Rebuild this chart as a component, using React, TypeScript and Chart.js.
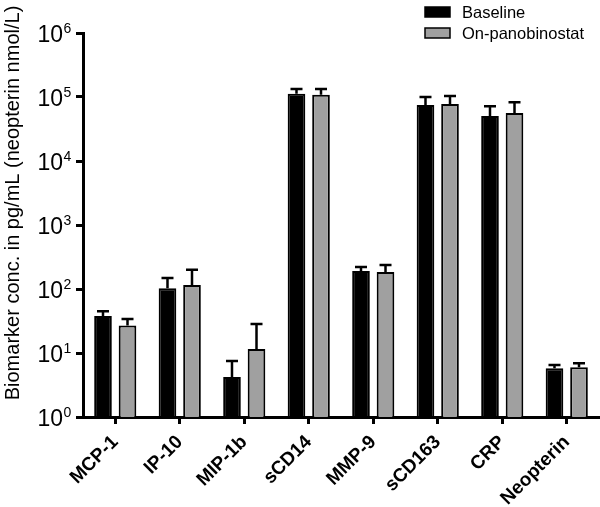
import React, { useEffect, useRef } from 'react';
import { Chart, registerables } from 'chart.js';

Chart.register(...registerables);

const categories = ['MCP-1', 'IP-10', 'MIP-1b', 'sCD14', 'MMP-9', 'sCD163', 'CRP', 'Neopterin'];
const baselineMeans = [38, 103, 4.2, 112000, 191, 75000, 50500, 5.8];
const baselineErrors = [7, 45, 3.3, 21000, 29, 25000, 21500, 0.7];
const onPanoMeans = [27, 115, 11.5, 108000, 185, 78000, 56000, 6.0];
const onPanoErrors = [7, 84, 17, 25000, 52, 26000, 27000, 0.9];
const yTickValues = [1, 10, 100, 1000, 10000, 100000, 1000000];
const yTickExponents = ['0', '1', '2', '3', '4', '5', '6'];
const legendLabels = ['Baseline', 'On-panobinostat'];
const yAxisTitle = 'Biomarker conc. in pg/mL (neopterin nmol/L)';

const FONT = '"Liberation Sans", Arial, Helvetica, sans-serif';
const colors = ['#000000', '#a0a0a0'];
const errorSets = [baselineErrors, onPanoErrors];

const customDraw = {
  id: 'customDraw',
  afterDatasetsDraw(chart: any) {
    const ctx = chart.ctx;
    const y = chart.scales.y;
    ctx.save();
    ctx.strokeStyle = '#000';
    ctx.lineWidth = 2.5;
    ctx.lineCap = 'butt';
    chart.data.datasets.forEach((ds: any, di: number) => {
      const meta = chart.getDatasetMeta(di);
      const errs = errorSets[di];
      meta.data.forEach((bar: any, i: number) => {
        const top = y.getPixelForValue(ds.data[i] + errs[i]);
        const x = bar.x;
        ctx.beginPath();
        ctx.moveTo(x, bar.y);
        ctx.lineTo(x, top);
        ctx.moveTo(x - 6, top);
        ctx.lineTo(x + 6, top);
        ctx.stroke();
      });
    });
    ctx.restore();
  },
  afterDraw(chart: any) {
    const ctx = chart.ctx;
    const y = chart.scales.y;
    ctx.save();
    ctx.fillStyle = '#000';
    yTickValues.forEach((v, i) => {
      const py = y.getPixelForValue(v);
      ctx.font = `23px ${FONT}`;
      ctx.textAlign = 'right';
      ctx.textBaseline = 'alphabetic';
      ctx.fillText('10', 63, py + 9);
      ctx.font = `14px ${FONT}`;
      ctx.textAlign = 'left';
      ctx.fillText(yTickExponents[i], 63.5, py);
    });
    ctx.save();
    ctx.translate(19, 203);
    ctx.rotate(-Math.PI / 2);
    ctx.font = `20px ${FONT}`;
    ctx.textAlign = 'center';
    ctx.textBaseline = 'alphabetic';
    ctx.fillText(yAxisTitle, 0, 0);
    ctx.restore();
    legendLabels.forEach((label, i) => {
      const top = 7 + i * 21;
      ctx.fillStyle = colors[i];
      ctx.fillRect(425, top, 25, 10);
      ctx.strokeStyle = '#000';
      ctx.lineWidth = 1.5;
      ctx.strokeRect(425, top, 25, 10);
      ctx.fillStyle = '#000';
      ctx.font = `16.5px ${FONT}`;
      ctx.textAlign = 'left';
      ctx.textBaseline = 'alphabetic';
      ctx.fillText(label, 462, top + 10.5);
    });
    ctx.restore();
  },
};

export default function App() {
  const canvasRef = useRef<HTMLCanvasElement | null>(null);

  useEffect(() => {
    if (!canvasRef.current) return;
    const chart = new Chart(canvasRef.current, {
      type: 'bar',
      data: {
        labels: categories,
        datasets: [
          {
            label: legendLabels[0],
            data: baselineMeans,
            backgroundColor: colors[0],
            borderColor: '#000',
            borderWidth: 2,
            categoryPercentage: 0.76,
            barPercentage: 0.72,
          },
          {
            label: legendLabels[1],
            data: onPanoMeans,
            backgroundColor: colors[1],
            borderColor: '#000',
            borderWidth: 2,
            categoryPercentage: 0.76,
            barPercentage: 0.72,
          },
        ],
      },
      options: {
        animation: false,
        responsive: true,
        maintainAspectRatio: false,
        layout: { padding: { top: 33, right: 1, left: 0, bottom: 0 } },
        plugins: {
          legend: { display: false },
          tooltip: { enabled: false },
          title: { display: false },
        },
        scales: {
          x: {
            offset: true,
            afterFit: (scale: any) => {
              scale.height = 90;
            },
            grid: {
              display: true,
              offset: false,
              drawOnChartArea: false,
              drawTicks: true,
              tickLength: 7,
              lineWidth: 3,
              color: '#000',
            },
            border: { display: true, width: 3, color: '#000' },
            ticks: {
              color: '#000',
              font: { family: FONT, size: 19, weight: 'bold' },
              maxRotation: 45,
              minRotation: 45,
              padding: 7,
              autoSkip: false,
            },
          },
          y: {
            type: 'logarithmic',
            min: 1,
            max: 1000000,
            afterBuildTicks: (scale: any) => {
              scale.ticks = yTickValues.map((v) => ({ value: v }));
            },
            afterFit: (scale: any) => {
              scale.width = 83;
            },
            grid: {
              display: true,
              drawOnChartArea: false,
              drawTicks: true,
              tickLength: 7,
              lineWidth: 3,
              color: '#000',
            },
            border: { display: true, width: 3, color: '#000' },
            ticks: { display: false },
          },
        },
      },
      plugins: [customDraw],
    });
    return () => chart.destroy();
  }, []);

  return (
    <div style={{ position: 'absolute', left: 0, top: 0, width: 600, height: 507, background: '#fff' }}>
      <canvas ref={canvasRef} />
    </div>
  );
}
